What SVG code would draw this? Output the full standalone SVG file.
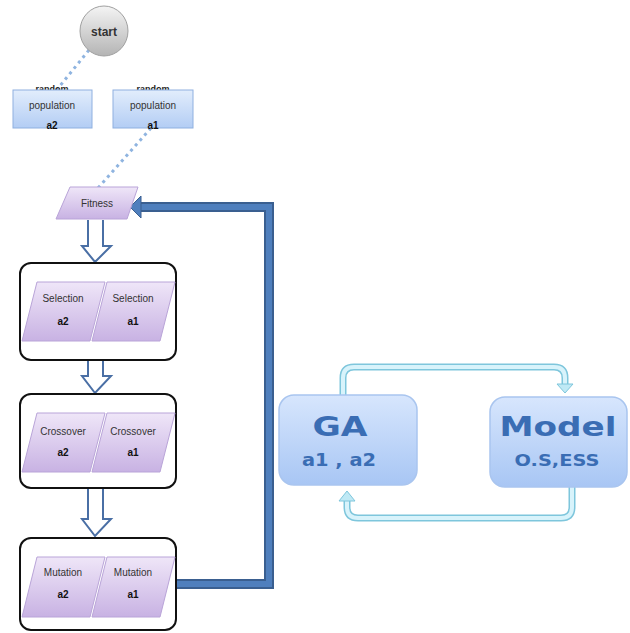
<svg xmlns="http://www.w3.org/2000/svg" width="630" height="633" viewBox="0 0 630 633">
<defs>
<linearGradient id="gStart" x1="0" y1="0" x2="0" y2="1"><stop offset="0" stop-color="#f4f4f4"/><stop offset="1" stop-color="#b4b4b4"/></linearGradient>
<linearGradient id="gPop" x1="0" y1="0" x2="0" y2="1"><stop offset="0" stop-color="#e2edfc"/><stop offset="1" stop-color="#b3cdf4"/></linearGradient>
<linearGradient id="gPar" x1="0" y1="0" x2="0" y2="1"><stop offset="0" stop-color="#efe6f8"/><stop offset="1" stop-color="#c8b2e3"/></linearGradient>
<linearGradient id="gBig" x1="0" y1="0" x2="0" y2="1"><stop offset="0" stop-color="#d7e6fd"/><stop offset="1" stop-color="#a8c6f4"/></linearGradient>
</defs>
<style>
.t{font-family:"Liberation Sans Narrow","Liberation Sans",Arial,sans-serif;fill:#333;text-anchor:middle}
.s{font-size:10px}
.b{font-size:10px;font-weight:bold;fill:#111}
.par{fill:url(#gPar);stroke:#b9a4d8;stroke-width:1}
.pop{fill:url(#gPop);stroke:#8fb0e0;stroke-width:1}
.grp{fill:#fff;stroke:#111;stroke-width:2}
.dot{fill:none;stroke:#8fb4e0;stroke-width:3;stroke-dasharray:3 4}
.hol{fill:#fff;stroke:#4a6fa5;stroke-width:2;stroke-linejoin:miter}
.big{fill:url(#gBig);stroke:#a9c5ef;stroke-width:1.5}
.bt{font-family:"DejaVu Sans",Verdana,sans-serif;font-weight:bold;fill:#3a6db4;text-anchor:middle}
.cy{fill:none;stroke:#7ec6dc;stroke-width:7}
.cyi{fill:none;stroke:#d8f3fb;stroke-width:4}
</style>

<g id="connectors">
<path class="dot" d="M89 50 L55 92"/>
<path class="dot" d="M151 128 L98 188"/>
<path class="hol" d="M88 220 V246 H82 L95 262 L111 246 H103 V220"/>
<path class="hol" d="M88 361 V376 H82 L95 393 L111 376 H103 V361"/>
<path class="hol" d="M88 488 V519 H82 L95 536 L111 519 H103 V488"/>
<path d="M176 584 H269 V207 H139" fill="none" stroke="#3a5f90" stroke-width="10"/>
<path d="M176 584 H269 V207 H139" fill="none" stroke="#4f7fbd" stroke-width="6"/>
<path d="M130 207 L141 196 L141 218 Z" fill="#4f7fbd" stroke="#3a5f90" stroke-width="1"/>
<path class="cy" d="M343 396 V378 Q343 367 354 367 H554 Q565 367 565 378 V385"/>
<path class="cyi" d="M343 396 V378 Q343 367 354 367 H554 Q565 367 565 378 V385"/>
<path d="M557 384 L573 384 L565 393 Z" fill="#bfe9f5" stroke="#7ec6dc" stroke-width="1"/>
<path class="cy" d="M572 487 V507 Q572 518 561 518 H358 Q347 518 347 507 V500"/>
<path class="cyi" d="M572 487 V507 Q572 518 561 518 H358 Q347 518 347 507 V500"/>
<path d="M339 501 L355 501 L347 491 Z" fill="#bfe9f5" stroke="#7ec6dc" stroke-width="1"/>
</g>

<g id="start">
<ellipse cx="104" cy="31" rx="24" ry="25" fill="url(#gStart)" stroke="#a0a0a0" stroke-width="1"/>
<text class="t" x="104" y="36" style="font-size:12px;font-weight:bold">start</text>
</g>

<g id="population-a2">
<text class="t" x="52" y="92" style="font-size:9px;font-weight:bold;fill:#222">random</text>
<rect class="pop" x="13" y="90" width="79" height="38"/>
<text class="t s" x="52" y="109">population</text>
<text class="t b" x="52" y="129">a2</text>
</g>

<g id="population-a1">
<text class="t" x="153" y="92" style="font-size:9px;font-weight:bold;fill:#222">random</text>
<rect class="pop" x="113" y="90" width="80" height="38"/>
<text class="t s" x="153" y="109">population</text>
<text class="t b" x="153" y="129">a1</text>
</g>

<g id="fitness">
<path class="par" d="M70 187 H138 L127 219 H56 Z"/>
<text class="t s" x="97" y="207">Fitness</text>
</g>

<g id="selection">
<rect class="grp" x="20" y="263" width="156" height="97" rx="11"/>
<path class="par" d="M37 282 H105 L90 341 H22 Z"/>
<path class="par" d="M107 282 H175 L160 341 H92 Z"/>
<text class="t s" x="63" y="302">Selection</text>
<text class="t b" x="63" y="325">a2</text>
<text class="t s" x="133" y="302">Selection</text>
<text class="t b" x="133" y="325">a1</text>
</g>

<g id="crossover">
<rect class="grp" x="20" y="394" width="156" height="94" rx="11"/>
<path class="par" d="M37 413 H105 L90 472 H22 Z"/>
<path class="par" d="M107 413 H175 L160 472 H92 Z"/>
<text class="t s" x="63" y="435">Crossover</text>
<text class="t b" x="63" y="456">a2</text>
<text class="t s" x="133" y="435">Crossover</text>
<text class="t b" x="133" y="456">a1</text>
</g>

<g id="mutation">
<rect class="grp" x="20" y="538" width="156" height="92" rx="11"/>
<path class="par" d="M37 557 H105 L90 617 H22 Z"/>
<path class="par" d="M107 557 H175 L160 617 H92 Z"/>
<text class="t s" x="63" y="576">Mutation</text>
<text class="t b" x="63" y="598">a2</text>
<text class="t s" x="133" y="576">Mutation</text>
<text class="t b" x="133" y="598">a1</text>
</g>

<g id="ga">
<rect class="big" x="279" y="395" width="138" height="90" rx="15"/>
<text class="bt" x="340" y="436" style="font-size:27px" textLength="55" lengthAdjust="spacingAndGlyphs">GA</text>
<text class="bt" x="339" y="466" style="font-size:17px" textLength="74" lengthAdjust="spacingAndGlyphs">a1 , a2</text>
</g>

<g id="model">
<rect class="big" x="490" y="397" width="137" height="90" rx="15"/>
<text class="bt" x="558" y="436" style="font-size:27px" textLength="117" lengthAdjust="spacingAndGlyphs">Model</text>
<text class="bt" x="557" y="466" style="font-size:16px" textLength="85" lengthAdjust="spacingAndGlyphs">O.S,ESS</text>
</g>
</svg>
